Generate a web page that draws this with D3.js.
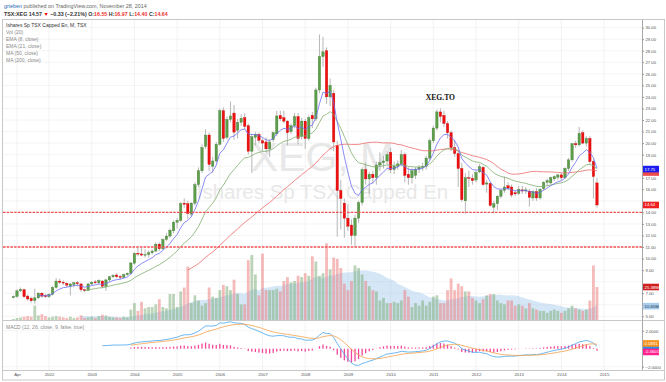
<!DOCTYPE html>
<html><head><meta charset="utf-8">
<script src="https://cdn.jsdelivr.net/npm/d3@7"></script>
<style>body{margin:0;background:#fff}svg{display:block;font-family:"Liberation Sans",Arial,sans-serif}</style>
</head><body><svg id="c" width="666" height="382"></svg>
<script>
// ---------------- DATA (monthly, TSX:XEG, from Mar 2001) ----------------
const startMonth = "2001-03";
const opens = [6.62,6.72,7.20,7.30,6.75,6.55,6.35,6.60,7.00,6.80,
 6.70,6.90,7.50,8.05,7.95,7.85,7.60,7.75,7.90,7.80,7.30,7.25,
 7.80,7.98,7.90,8.05,7.60,8.15,8.42,8.58,8.45,8.38,8.60,8.72,
 9.60,10.45,10.40,10.30,10.35,10.50,10.65,11.25,10.85,11.65,11.95,12.40,
 13.15,13.30,14.80,14.75,13.85,14.80,16.40,17.60,19.70,20.70,18.00,18.45,
 19.90,22.80,20.50,22.05,22.60,21.10,21.80,22.20,21.50,19.30,20.50,20.75,
 20.20,20.10,19.50,20.30,20.80,22.40,22.20,21.90,21.00,21.50,22.30,20.60,
 21.90,20.40,22.40,22.10,24.60,27.50,28.00,24.00,24.30,19.80,15.90,14.80,
 13.50,12.90,12.00,13.50,14.85,17.70,16.90,17.30,17.00,18.10,18.30,18.45,
 19.20,17.70,18.00,18.20,19.00,17.30,17.00,17.20,17.75,17.90,18.00,18.70,
 20.20,21.30,22.70,22.40,21.70,20.90,19.60,19.10,17.80,15.00,17.00,16.95,
 16.80,17.50,17.90,16.45,16.50,14.45,14.75,15.40,15.90,16.30,16.20,15.70,
 15.65,15.95,15.85,15.85,15.25,15.80,15.25,16.05,16.60,16.55,16.90,17.05,
 17.25,17.00,17.80,18.55,19.95,19.85,20.90,20.00,20.40,18.40,16.55];
const highs = [6.80,7.35,7.50,7.40,6.90,6.70,7.40,7.10,7.10,6.95,
 7.00,7.60,8.30,8.25,8.10,7.95,7.90,8.00,8.05,7.90,7.40,7.90,
 8.05,8.15,8.20,8.15,8.25,8.50,8.65,8.75,8.60,8.70,8.80,9.70,
 10.55,10.95,10.90,10.80,10.70,10.80,11.40,11.40,11.75,12.20,12.60,13.30,
 13.50,14.90,15.20,15.00,14.90,16.60,17.90,19.90,21.20,20.90,18.80,20.10,
 23.00,23.10,22.30,23.60,23.30,22.10,22.50,22.60,21.70,20.80,20.95,20.90,
 20.40,20.50,20.30,21.00,22.80,22.80,22.80,22.00,21.70,22.60,22.60,22.20,
 22.10,22.40,22.70,24.80,29.40,29.20,28.30,25.60,24.60,20.20,16.80,15.20,
 14.70,13.40,13.80,15.00,17.90,18.30,17.50,17.60,18.40,19.20,18.90,19.30,
 19.60,18.40,18.50,19.40,19.20,17.90,17.80,17.90,18.10,18.30,18.90,20.40,
 21.50,22.90,23.00,22.80,21.90,21.10,20.30,19.40,18.30,17.40,17.60,17.30,
 17.60,18.20,18.00,16.80,16.60,15.00,15.50,16.00,17.10,16.60,16.40,15.90,
 16.30,16.30,16.20,16.00,15.90,16.10,16.10,16.70,16.90,17.10,17.20,17.30,
 17.40,17.90,18.70,20.00,20.20,21.40,21.10,20.60,20.60,18.60,16.97];
const lows = [6.55,6.60,7.10,6.60,6.35,6.20,6.10,6.50,6.60,6.60,
 6.60,6.80,7.40,7.80,7.70,7.50,6.80,7.50,7.60,7.10,7.10,7.20,
 7.70,7.80,7.75,7.45,7.20,8.00,8.30,8.30,8.20,8.30,8.50,8.60,
 9.50,10.20,10.20,10.10,10.10,10.35,10.55,10.65,10.75,11.50,11.80,12.20,
 12.60,13.20,14.40,13.40,13.60,14.60,16.20,17.40,19.50,17.60,17.40,18.30,
 19.80,20.10,20.30,21.80,20.30,20.40,21.50,21.20,19.00,17.40,19.80,20.00,
 19.30,19.20,18.80,20.10,20.60,21.90,21.70,19.80,20.80,21.30,19.90,20.30,
 19.50,20.20,21.30,21.90,24.30,26.60,23.40,23.20,19.30,11.90,12.50,11.80,
 12.40,11.20,11.00,13.10,14.60,16.40,15.60,16.50,16.40,17.60,17.80,18.20,
 17.40,17.30,17.70,18.00,16.60,16.40,16.50,16.90,17.40,17.60,17.70,18.50,
 20.00,21.10,21.80,21.40,20.40,19.30,18.80,16.20,14.90,13.90,16.20,16.40,
 16.60,17.40,16.30,15.70,14.50,13.90,14.20,15.20,15.70,15.90,15.30,15.40,
 15.50,15.60,15.60,14.50,15.00,15.00,15.10,15.90,16.30,16.40,16.70,16.80,
 16.80,16.90,17.60,18.40,19.60,19.70,19.90,19.70,18.20,15.20,14.40];
const closes = [6.72,7.20,7.32,6.70,6.50,6.35,6.60,7.00,6.75,6.70,
 6.90,7.50,8.05,7.95,7.88,7.70,7.80,7.90,7.82,7.30,7.22,7.80,
 7.95,7.90,8.10,7.60,8.15,8.42,8.55,8.42,8.38,8.62,8.72,9.62,
 10.45,10.40,10.30,10.35,10.50,10.65,11.25,10.85,11.65,11.95,12.45,13.15,
 13.30,14.75,14.70,13.90,14.80,16.40,17.60,19.60,20.70,18.15,18.45,19.90,
 22.80,20.40,22.05,22.35,20.95,21.80,22.15,21.45,19.30,20.55,20.75,20.25,
 20.00,19.50,20.10,20.90,22.35,22.10,21.90,20.90,21.50,22.30,20.40,21.90,
 20.40,22.20,22.10,24.60,27.50,27.90,24.00,25.00,20.10,15.90,15.20,13.50,
 12.80,12.00,13.50,14.85,17.70,16.90,17.30,17.00,18.10,18.30,18.45,19.00,
 17.70,18.00,18.20,19.00,17.20,17.00,17.60,17.75,17.90,18.00,18.70,20.20,
 21.30,22.70,22.30,21.70,20.90,19.60,19.10,17.80,15.10,17.00,16.95,16.75,
 17.45,17.95,16.40,16.55,14.60,14.75,15.40,15.90,16.20,16.10,15.50,15.60,
 16.00,15.85,15.95,15.30,15.80,15.25,16.00,16.60,16.75,17.00,17.10,17.25,
 17.00,17.80,18.55,19.95,19.85,20.85,20.00,20.40,18.40,17.10,14.64];
// volume, millions of units
const volumes = [0.8,1.5,2.0,2.5,3.0,2.5,11.0,3.5,4.5,3.0,
 2.0,2.5,3.0,2.5,2.0,1.5,2.5,1.5,2.0,3.5,1.5,2.0,
 2.5,1.5,3.0,4.0,3.5,2.5,2.0,2.0,1.5,2.5,2.0,8.0,
 13,7,14,9,10,10,12,16,10,9,20,20,
 10,22,25,41,13,19,15,11,13,25,18,17,
 23,27,26,23,31,20,12,12,46,50,35,19,
 51,23,23,23,24,22,30,33,29,30,34,33,
 36,34,49,45,34,36,59,39,48,47,40,28,
 23,30,42,40,35,30,26,23,22,15,17,13,
 13,14,13,15,23,18,10,13,11,15,11,14,
 18,19,13,13,23,32,23,28,26,22,22,17,
 15,13,16,19,20,20,15,13,12,15,15,11,
 12,11,9,13,9,8,7,7,5.5,7,8,7,
 5.5,7,9,11,9,8,7,8,15,42,25.38];
const tickLabels = ["Apr","2002","2003","2004","2005","2006","2007","2008","2009","2010","2011","2012","2013","2014","2015"];
const tickMonths = ["2001-04","2002-01","2003-01","2004-01","2005-01","2006-01","2007-01","2008-01","2009-01","2010-01","2011-01","2012-01","2013-01","2014-01","2015-01"];
const priceTicks = d3.range(5, 31, 1);
const macdTicks = [2, -2];
const levelLines = [14, 11];
const legendLines = ["Vol (20)","EMA (8, close)","EMA (21, close)","MA (50, close)","MA (200, close)"];
const lastLabels = {ema8:"17.75", ma50:"17.45", close:"14.64", vol:"25.38M", volMa:"10.65M", signal:"0.5831", macd:"0.2230", hist:"-0.3601"};

// ---------------- INDICATORS ----------------
function ema(src, n){const a=2/(n+1);let buf=[],prev=null;return src.map(v=>{if(v==null)return null;if(prev==null){buf.push(v);if(buf.length===n){prev=d3.mean(buf);return prev;}return null;}prev=a*v+(1-a)*prev;return prev;});}
function sma(src, n){return src.map((v,i)=>i<n-1?null:d3.mean(src.slice(i-n+1,i+1)));}
const ema8 = ema(closes,8), ema21 = ema(closes,21), ma50 = sma(closes,50), volMa = sma(volumes,20);
const e12 = ema(closes,12), e26 = ema(closes,26);
const macd = closes.map((c,i)=>e26[i]==null?null:e12[i]-e26[i]);
const signal = ema(macd,9);
const hist = macd.map((m,i)=>signal[i]==null?null:m-signal[i]);

// ---------------- SCALES ----------------
const parse = d3.timeParse("%Y-%m");
const t0 = parse(startMonth);
const idx = s => d3.timeMonth.count(t0, parse(s));
const L=3, R=642, T=20, MB=320, MT=321, MBOT=370, B=380;
const x = d3.scaleLinear().domain([-2.93,176.65]).range([L,R]);
const y = d3.scaleLinear().domain([4.68,30.66]).range([MB,T]);
const yv = d3.scaleLinear().domain([0,50]).range([MB,MB-65]);
const ym = d3.scaleLinear().domain([-2,2]).range([366.7,330.7]);

const svg = d3.select("#c");
const defs = svg.append("defs");
defs.append("clipPath").attr("id","cm").append("rect").attr("x",L).attr("y",T).attr("width",R-L).attr("height",MB-T);
defs.append("clipPath").attr("id","cd").append("rect").attr("x",L).attr("y",MT).attr("width",R-L).attr("height",MBOT-MT);

// header
const h1 = svg.append("text").attr("x",4).attr("y",8).attr("font-size",5.4);
h1.append("tspan").attr("fill","#2a6cb5").text("grieben");
h1.append("tspan").attr("fill","#666").text(" published on TradingView.com, November 28, 2014");
const h2 = svg.append("text").attr("x",4).attr("y",16).attr("font-size",5.3).attr("font-weight","bold").attr("fill","#333");
h2.append("tspan").text("TSX:XEG 14.57 ");
h2.append("tspan").attr("fill","#e00").text("▼");
h2.append("tspan").text(" −0.33 (−2.21%) ");
[["O:","16.55"],["H:","16.97"],["L:","14.40"],["C:","14.64"]].forEach(([k,v],i)=>{
  h2.append("tspan").text((i?" ":"")+k); h2.append("tspan").attr("fill","#e33").text(v);
});

// frame
svg.append("rect").attr("x",L-0.5).attr("y",T-0.5).attr("width",664-L+1).attr("height",B-T+0.5).attr("fill","#fff").attr("stroke","#c8c8c8");

// grids
const tickIdx = tickMonths.map(idx);
const grid = svg.append("g");
tickIdx.forEach(i=>grid.append("line").attr("x1",x(i)).attr("x2",x(i)).attr("y1",T).attr("y2",MBOT).attr("stroke","#efefef").attr("stroke-width",0.8));
priceTicks.forEach(p=>grid.append("line").attr("x1",L).attr("x2",R).attr("y1",y(p)).attr("y2",y(p)).attr("stroke","#f1f1f1").attr("stroke-width",0.8));
macdTicks.forEach(p=>grid.append("line").attr("x1",L).attr("x2",R).attr("y1",ym(p)).attr("y2",ym(p)).attr("stroke","#f1f1f1").attr("stroke-width",0.8));

// watermark
svg.append("text").attr("x",(L+R)/2).attr("y",171).attr("text-anchor","middle").attr("font-size",41).attr("fill","#e8e8e8").text("XEG, M");
svg.append("text").attr("x",(L+R)/2).attr("y",199).attr("text-anchor","middle").attr("font-size",20.5).attr("fill","#e8e8e8").text("Ishares Sp TSX Capped En");

const main = svg.append("g").attr("clip-path","url(#cm)");
// volume
main.append("path").datum(volMa.map((v,i)=>[i,v])).attr("fill","rgba(150,195,235,0.4)")
  .attr("d", d3.area().defined(d=>d[1]!=null).x(d=>x(d[0])).y0(yv(0)).y1(d=>yv(d[1])));
main.append("g").selectAll("rect").data(volumes).join("rect")
  .attr("x",(d,i)=>x(i)-1.4).attr("width",2.8).attr("y",d=>yv(d)).attr("height",d=>yv(0)-yv(d))
  .attr("fill",(d,i)=>closes[i]>=opens[i]?"rgba(120,170,115,0.5)":"rgba(236,120,120,0.5)");
// candles
const cg = main.append("g");
closes.forEach((c,i)=>{
  const o=opens[i], up=c>=o;
  cg.append("line").attr("x1",x(i)).attr("x2",x(i)).attr("y1",y(highs[i])).attr("y2",y(lows[i])).attr("stroke","#a4a4a4").attr("stroke-width",0.8);
  const yt=y(Math.max(o,c)), yb=y(Math.min(o,c));
  cg.append("rect").attr("x",x(i)-1.2).attr("width",2.4).attr("y",yt).attr("height",Math.max(0.7,yb-yt))
    .attr("fill",up?"#5c9e4a":"#ee1010").attr("stroke",up?"#3f7a31":"#c80000").attr("stroke-width",0.35);
});
// moving averages
const ln = d3.line().defined(d=>d!=null).x((d,i)=>x(i)).y(d=>y(d));
[[ma50,"#ee6a6a"],[ema21,"#82ad6e"],[ema8,"#6d6df5"]].forEach(([s,col])=>{
  main.append("path").datum(s).attr("fill","none").attr("stroke",col).attr("stroke-width",0.8).attr("d",ln);
});
// horizontal levels
levelLines.forEach(p=>main.append("line").attr("x1",L).attr("x2",R).attr("y1",y(p)).attr("y2",y(p))
  .attr("stroke","#f25050").attr("stroke-width",1.3).attr("stroke-dasharray","2.5,1.2"));
// annotation
svg.append("text").attr("x",x(idx("2011-03"))).attr("y",y(23.7)).attr("text-anchor","middle")
  .attr("font-family","'Liberation Serif','DejaVu Serif',serif").attr("font-weight","bold").attr("font-size",7.6).attr("fill","#111").text("XEG.TO");

// legend
svg.append("text").attr("x",6).attr("y",26.5).attr("font-size",5).attr("fill","#333").text("Ishares Sp TSX Capped En, M, TSX");
legendLines.forEach((t,i)=>svg.append("text").attr("x",6).attr("y",33.7+i*7.1).attr("font-size",5).attr("fill","#8a8a8a").text(t));

// MACD pane
svg.append("line").attr("x1",L).attr("x2",664).attr("y1",MB+0.5).attr("y2",MB+0.5).attr("stroke","#c8c8c8");
const mp = svg.append("g").attr("clip-path","url(#cd)");
mp.append("g").selectAll("rect").data(hist.map((h,i)=>[i,h]).filter(d=>d[1]!=null)).join("rect")
  .attr("x",d=>x(d[0])-0.65).attr("width",1.3)
  .attr("y",d=>Math.min(ym(0),ym(d[1]))).attr("height",d=>Math.abs(ym(d[1])-ym(0)))
  .attr("fill","#f2479b");
const lm = d3.line().defined(d=>d!=null).x((d,i)=>x(i)).y(d=>ym(d));
mp.append("path").datum(macd).attr("fill","none").attr("stroke","#45a6ee").attr("stroke-width",0.8).attr("d",lm);
mp.append("path").datum(signal).attr("fill","none").attr("stroke","#f5a04a").attr("stroke-width",0.8).attr("d",lm);
svg.append("text").attr("x",6).attr("y",329).attr("font-size",5).attr("fill","#8a8a8a").text("MACD (12, 26, close, 9, false, true)");

// time axis
svg.append("line").attr("x1",L).attr("x2",664).attr("y1",MBOT+0.5).attr("y2",MBOT+0.5).attr("stroke","#c8c8c8");
const xa = svg.append("g").attr("transform",`translate(0,${MBOT})`)
  .call(d3.axisBottom(x).tickValues(tickIdx).tickFormat((d,i)=>tickLabels[i]).tickSize(0).tickPadding(3));
xa.select(".domain").remove();
xa.selectAll("text").attr("font-size",4.3).attr("fill","#555").attr("font-family","'Liberation Sans',Arial,sans-serif");

// last-value tag positions
const last = closes.length-1;
const tags = [
  {y:y(+lastLabels.ma50), txt:null, bg:"#ee4b4b"},
  {y:y(+lastLabels.ema8), txt:lastLabels.ema8, bg:"#1c1cf0", fg:"#fff"},
  {y:y(closes[last]), txt:lastLabels.close, bg:"#ee2020", fg:"#fff"},
  {y:yv(volumes[last]), txt:lastLabels.vol, bg:"#cf1f1f", fg:"#fff"},
  {y:yv(+lastLabels.volMa.replace("M","")), txt:lastLabels.volMa, bg:"#a9cdee", fg:"#234"},
  {y:ym(+lastLabels.macd), txt:null, bg:"#2f8de6"},
  {y:ym(+lastLabels.signal), txt:lastLabels.signal, bg:"#f7931e", fg:"#fff"},
  {y:ym(+lastLabels.hist), txt:lastLabels.hist, bg:"#ff1f8f", fg:"#fff"}
];
const covered = v => tags.some(t=>t.txt && Math.abs(t.y - v) < 6.2);

// price axis
svg.append("line").attr("x1",R+0.5).attr("x2",R+0.5).attr("y1",T).attr("y2",MBOT).attr("stroke","#a8a8a8");
const ya = svg.append("g").attr("transform",`translate(${R},0)`)
  .call(d3.axisRight(y).tickValues(priceTicks.filter(p=>!covered(y(p)))).tickFormat(d3.format(".2f")).tickSize(2).tickPadding(1.5));
const ma = svg.append("g").attr("transform",`translate(${R},0)`)
  .call(d3.axisRight(ym).tickValues(macdTicks).tickFormat(d3.format(".4f")).tickSize(2).tickPadding(1.5));
[ya,ma].forEach(a=>{a.select(".domain").remove();a.selectAll("line").attr("stroke","#999");
  a.selectAll("text").attr("font-size",4.2).attr("fill","#555").attr("font-family","'Liberation Sans',Arial,sans-serif");});

// tags
tags.forEach(t=>{
  svg.append("rect").attr("x",R+1).attr("y",t.y-3.3).attr("width",16).attr("height",6.6).attr("fill",t.bg);
  if(t.txt) svg.append("text").attr("x",R+2.5).attr("y",t.y+1.5).attr("font-size",4.3).attr("fill",t.fg).text(t.txt);
});
</script></body></html>
